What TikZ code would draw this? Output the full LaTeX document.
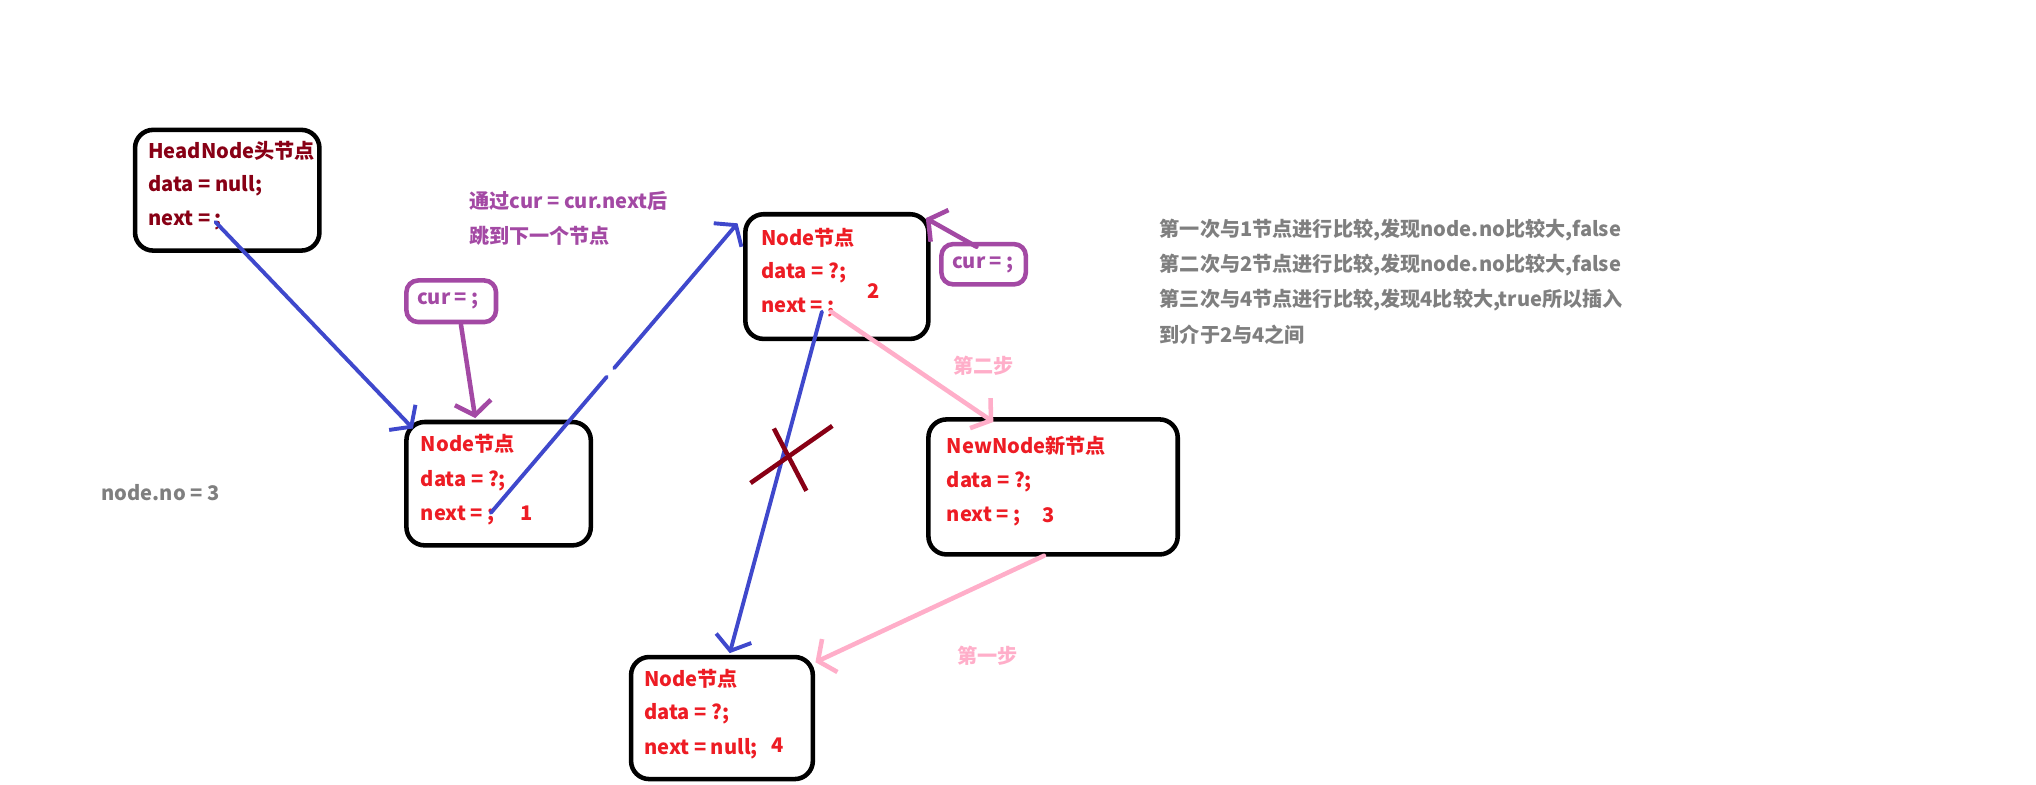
\documentclass[tikz,border=0pt]{standalone}
\usepackage{fontspec}
\setmainfont{Noto Sans CJK SC}
\usetikzlibrary{arrows.meta,calc}
\definecolor{cdred}{HTML}{880015}
\definecolor{cred}{HTML}{ED1C24}
\definecolor{cpurple}{HTML}{A349A4}
\definecolor{cblue}{HTML}{3F48CC}
\definecolor{cpink}{HTML}{FFAEC9}
\definecolor{cgray}{HTML}{7F7F7F}
\newcommand{\fs}{\fontsize{15.5}{18}\selectfont\bfseries}
\begin{document}
\begin{tikzpicture}[x=1pt,y=-1pt,
  box/.style={draw=black, line width=3.5pt, rounded corners=14pt, inner sep=0pt},
  curbox/.style={draw=cpurple, line width=3.5pt, rounded corners=9pt, inner sep=0pt},
  txt/.style={anchor=west, inner sep=0pt, font=\fs},
  barb/.style={-{Straight Barb[length=10pt,width=28pt]}, line cap=round},
  bline/.style={draw=cblue, line width=3pt, barb},
  pline/.style={draw=cpink, line width=3.5pt, barb},
  uline/.style={draw=cpurple, line width=3.5pt, barb}]
\useasboundingbox (0,0) rectangle (1568,603.8);

% boxes
\node[box, minimum width=142pt, minimum height=93pt] (head) at (175,146.5) {};
\node[box, minimum width=142pt, minimum height=95pt] (n1) at (384,372.5) {};
\node[box, minimum width=141pt, minimum height=96pt] (n2) at (644.5,213) {};
\node[box, minimum width=192pt, minimum height=104pt] (nn) at (811,375) {};
\node[box, minimum width=140pt, minimum height=94pt] (n4) at (556,553) {};
\node[curbox, minimum width=69pt, minimum height=32pt] (cur1) at (347.5,232) {};
\node[curbox, minimum width=65pt, minimum height=31pt] (cur2) at (757.5,203.5) {};

% head texts
\node[txt, text=cdred] (h1) at (114,116) {HeadNode头节点};
\node[txt, text=cdred] (h2) at (114,143) {data = null;};
\node[txt, text=cdred] (h3) at (114,170) {next = ;};
% node 1
\node[txt, text=cred] (a1) at (324,342) {Node节点};
\node[txt, text=cred] (a2) at (324,370) {data = ?;};
\node[txt, text=cred] (a3) at (324,397) {next = ;};
\node[txt, text=cred] (a4) at (401,395) {1};
% node 2
\node[txt, text=cred] (b1) at (586,183) {Node节点};
\node[txt, text=cred] (b2) at (586,210) {data = ?;};
\node[txt, text=cred] (b3) at (586,237) {next = ;};
\node[txt, text=cred] (b4) at (668,224) {2};
% new node
\node[txt, text=cred] (c1) at (729,343) {NewNode新节点};
\node[txt, text=cred] (c2) at (729,371) {data = ?;};
\node[txt, text=cred] (c3) at (729,398) {next = ;};
\node[txt, text=cred] (c4) at (803,397) {3};
% node 4
\node[txt, text=cred] (d1) at (496,523) {Node节点};
\node[txt, text=cred] (d2) at (496,550) {data = ?;};
\node[txt, text=cred] (d3) at (496,577) {next = null;};
\node[txt, text=cred] (d4) at (594,574) {4};
% cur texts
\node[txt, text=cpurple] (ct1) at (321,232) {cur = ;};
\node[txt, text=cpurple] (ct2) at (733,204) {cur = ;};
% descriptions
\node[txt, text=cpurple] (p1) at (361,155) {通过cur = cur.next后};
\node[txt, text=cpurple] (p2) at (361,182) {跳到下一个节点};
\node[txt, text=cgray] (g1) at (893,177) {第一次与1节点进行比较,发现node.no比较大,false};
\node[txt, text=cgray] (g2) at (893,204) {第二次与2节点进行比较,发现node.no比较大,false};
\node[txt, text=cgray] (g3) at (893,231) {第三次与4节点进行比较,发现4比较大,true所以插入};
\node[txt, text=cgray] (g4) at (893,258) {到介于2与4之间};
\node[txt, text=cgray] (nno) at (78,379) {node.no = 3};
\node[txt, text=cpink] (s2) at (734,282) {第二步};
\node[txt, text=cpink] (s1) at (737,505) {第一步};

% connector end points
\coordinate (hT) at (166,171);
\coordinate (hE) at (318,330);
\coordinate (aT) at (378,395);
\coordinate (aE) at (568,172);
\coordinate (bT) at (633,240);
\coordinate (bE) at (562,503);
\coordinate (pT) at (640,240);
\coordinate (pE) at (765,325);
\coordinate (qT) at (804,428);
\coordinate (qE) at (628,510);
\coordinate (u1T) at (355,250);
\coordinate (u1E) at (366,322);
\coordinate (u2T) at (752,190);
\coordinate (u2E) at (713,168);

% blue arrows
\draw[bline] (hT) -- (hE);
\draw[draw=cblue, line width=3pt, line cap=round] (aT) -- ($(aT)!0.47!(aE)$);
\draw[bline] ($(aT)!0.5!(aE)$) -- (aE);
\draw[bline] (bT) -- (bE);
% pink arrows
\draw[pline] (pT) -- (pE);
\draw[pline] (qT) -- (qE);
% purple arrows
\draw[uline] (u1T) -- (u1E);
\draw[uline] (u2T) -- (u2E);
% cross
\coordinate (x1) at (578,372);
\coordinate (x2) at (641,328);
\coordinate (x3) at (596,330);
\coordinate (x4) at (621,378);
\draw[draw=cdred, line width=3.5pt] (x1) -- (x2);
\draw[draw=cdred, line width=3.5pt] (x3) -- (x4);
\end{tikzpicture}
\end{document}
